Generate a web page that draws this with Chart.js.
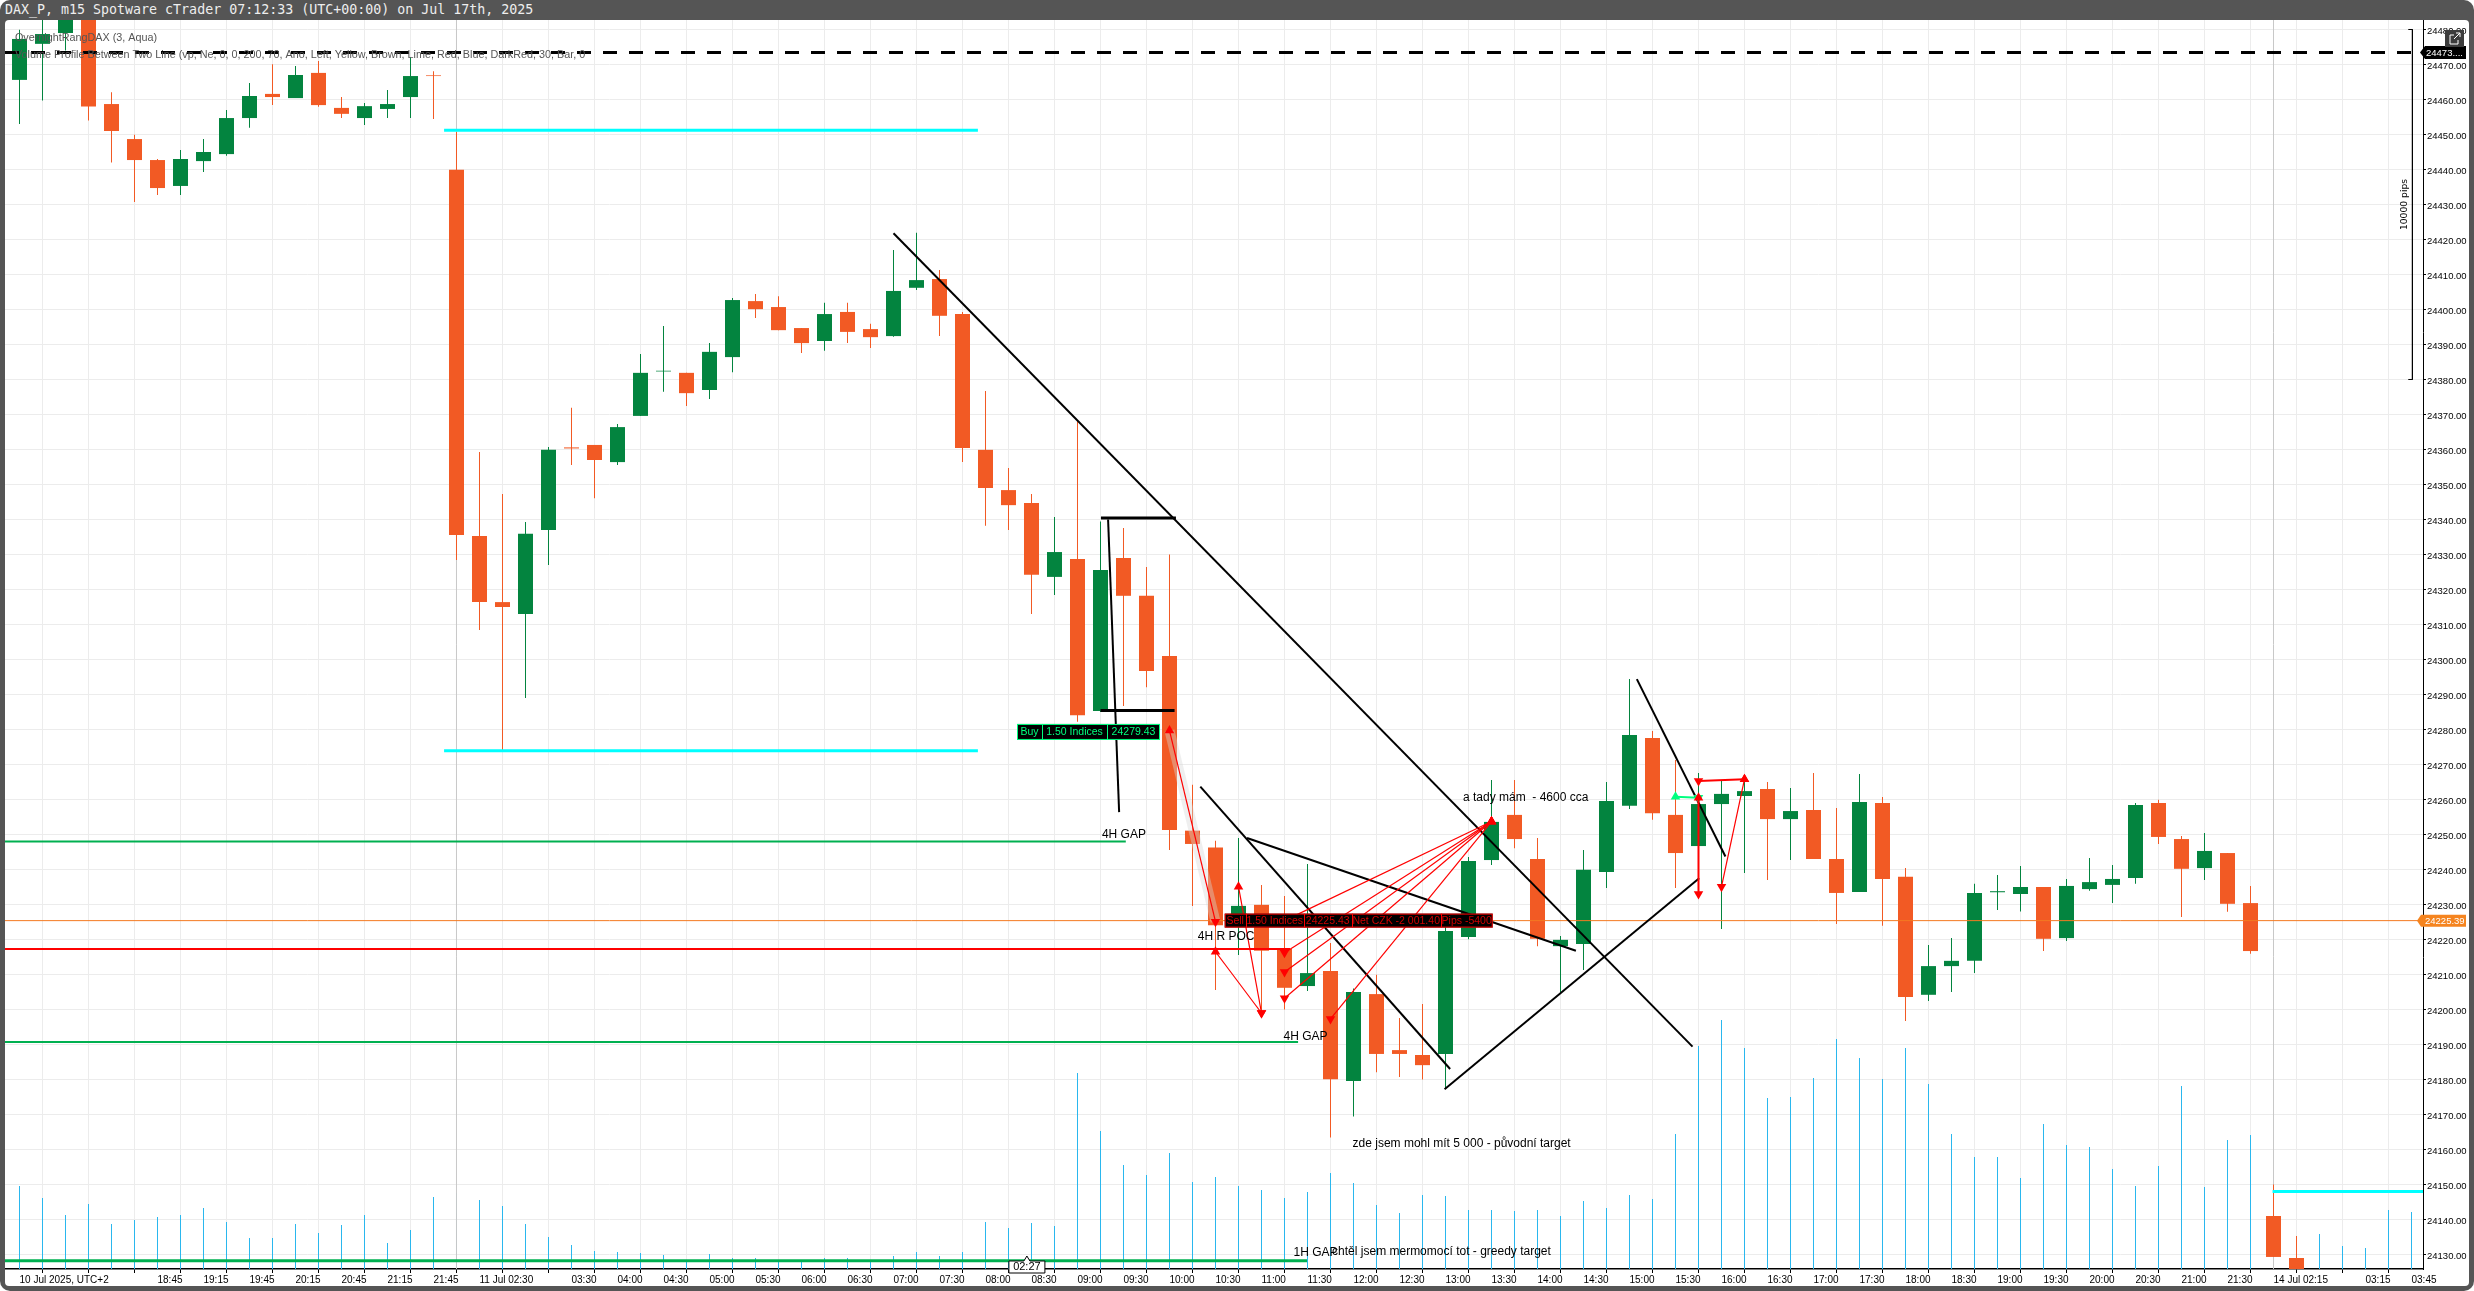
<!DOCTYPE html>
<html>
<head>
<meta charset="utf-8">
<title>DAX_P m15</title>
<style>
    html, body { margin: 0; padding: 0; background: #fff; }
    #frame { position: absolute; left: 0; top: 0; width: 2474px; height: 1291px; background: #555; border-radius: 10px; overflow: hidden; }
    #title { position: absolute; left: 5px; top: 1px; color: #eee; font: 13.3px/18px "DejaVu Sans Mono", monospace; white-space: pre; }
    #pane { position: absolute; left: 5px; top: 20px; width: 2464px; height: 1266px; background: #fff; border-radius: 4px; overflow: hidden; }
    canvas { display: block; }
</style>
<script src="https://cdn.jsdelivr.net/npm/chart.js@4/dist/chart.umd.min.js"></script>
</head>
<body>
<div id="frame">
    <div id="title">DAX_P, m15 Spotware cTrader 07:12:33 (UTC+00:00) on Jul 17th, 2025</div>
    <div id="pane"><canvas id="priceChart" width="2464" height="1266"></canvas></div>
</div>
<script>
// one entry per 15 minute bar
var opens = [24465.6,24475.9,24479,24490,24458.7,24448.7,24442.7,24435.3,24442.4,24444.4,24454.7,24461.6,24460.4,24467.6,24457.6,24454.7,24457.3,24460.7,24466.9,24439.9,24335.3,24316.4,24313,24337,24360.6,24361.3,24356.4,24369.6,24382.3,24381.9,24377,24386.4,24402.4,24400.7,24394.7,24391,24399.3,24394.4,24392.4,24406.2,24408.7,24398.7,24359.9,24348.4,24344.7,24323.6,24328.7,24285.3,24329,24318.2,24301,24251.1,24246.3,24226.5,24229.9,24217.3,24206.7,24211,24179.6,24204.4,24188.4,24187,24187.3,24220.7,24242.7,24255.6,24243,24218.1,24218.7,24239.3,24258.2,24277.6,24255.6,24246.7,24258.7,24261,24263,24254.4,24257,24243,24233.6,24259,24237.9,24204.2,24212.4,24213.9,24233.5,24233,24235,24220.4,24234.4,24235.6,24237.6,24259,24248.7,24240.4,24244.7,24230.4,24141,24129];
var highs = [24479.9,24490,24490,24492,24462.1,24449.9,24443,24445.6,24448.7,24457,24464.7,24470.1,24469.6,24471,24460.7,24459,24462.7,24472.1,24468.1,24450.7,24359.3,24347.3,24339.3,24360.7,24371.9,24361.3,24367.3,24387.3,24395.3,24381.9,24390.4,24403.3,24404.4,24403.8,24394.7,24401.9,24401.9,24395.9,24417,24421.9,24411.3,24399.3,24376.7,24354.7,24347.3,24340.7,24368.1,24339.4,24337.6,24326.4,24330,24264.2,24248.2,24249,24235.6,24232.4,24241.6,24219,24206,24209.9,24197.6,24201.6,24225,24243.6,24265.6,24265.6,24249,24221,24245.6,24265,24294.4,24279.6,24271.3,24267.6,24265.6,24265,24265,24263.3,24267.6,24257.6,24267.3,24260.7,24240.4,24218.4,24220.4,24235.9,24238.4,24241,24235,24237.3,24243.3,24241.3,24259,24259.9,24249.6,24250.4,24244.7,24235.3,24150,24135.3];
var lows = [24453,24459.7,24474,24454,24442,24430.7,24432.7,24432.7,24439.3,24443.9,24451.9,24458.4,24460.4,24457.9,24454.7,24452.7,24454.7,24454.7,24454.4,24328.4,24308.4,24274.1,24289,24327,24355.6,24346.1,24355.6,24369.6,24376.5,24372.4,24374.4,24382.1,24397.6,24394.1,24387.6,24388.2,24390.4,24389,24392.2,24405.6,24392.4,24356.4,24338.2,24337,24313,24318.4,24282.2,24285,24286.7,24292.1,24245.6,24229.6,24205.6,24215.6,24198,24200,24205.3,24163.4,24169.4,24182.1,24180.7,24180,24177.3,24220.1,24241.3,24246.1,24218.1,24205,24211.3,24234.7,24257.3,24254.2,24234.7,24245,24223,24239,24237,24242.7,24243,24224.4,24233.6,24223.9,24196.7,24202.4,24205,24210.4,24228.4,24228,24216.7,24219.6,24233.9,24230.4,24235.9,24247.3,24226.4,24237,24227.9,24215.9,24129.3,24120];
var closes = [24477.3,24478.7,24487,24458,24451,24442.7,24434.7,24443,24445,24454.7,24461,24460.7,24467,24458.4,24455.9,24458.1,24458.7,24466.7,24466.7,24335.6,24316.4,24315,24335.9,24359.9,24360.3,24357,24366.4,24381.9,24382.5,24376.1,24387.9,24402.7,24400.1,24394.1,24390.4,24398.7,24393.6,24392.1,24405.3,24408.4,24398.2,24360.4,24349,24344.1,24324.2,24330.7,24284.1,24325.6,24318.2,24296.7,24251.3,24247.3,24224.1,24229.6,24216.8,24206.2,24210.4,24180.1,24205,24187.3,24187.3,24184.1,24222.4,24242.4,24253.6,24248.7,24220.2,24219.9,24239.9,24259.6,24278.4,24256.1,24244.7,24258.7,24261.6,24262.4,24254.4,24256.7,24243,24233.3,24259.3,24237.3,24203.6,24212.4,24213.9,24233.3,24233.8,24235,24220.2,24235.3,24236.4,24237.3,24258.4,24249.3,24240.2,24245.3,24230.2,24216.7,24129.3,24120];
var volumes = [83,71,54,65,45,49,52,54,61,47,31,31,45,36,44,54,26,39,72,76,69,63,45,32,24,18,17,16,14,8,15,11,11,8,8,11,11,8,13,17,13,17,47,41,46,43,196,138,104,94,116,87,92,83,79,71,77,96,86,64,56,74,73,59,59,58,59,53,68,61,74,70,135,223,249,221,171,172,191,230,211,190,221,185,135,112,112,91,145,124,122,100,83,103,183,82,129,134,85,10,35,23,21,59,57];

var priceTicks = [24480,24470,24460,24450,24440,24430,24420,24410,24400,24390,24380,24370,24360,24350,24340,24330,24320,24310,24300,24290,24280,24270,24260,24250,24240,24230,24220,24210,24200,24190,24180,24170,24160,24150,24140,24130];
// every second bar gets a tick, some ticks have no text
var timeLabels = ['10 Jul 2025, UTC+2','','','18:45','19:15','19:45','20:15','20:45','21:15','21:45','11 Jul 02:30','','03:30','04:00','04:30','05:00','05:30','06:00','06:30','07:00','07:30','08:00','08:30','09:00','09:30','10:00','10:30','11:00','11:30','12:00','12:30','13:00','13:30','14:00','14:30','15:00','15:30','16:00','16:30','17:00','17:30','18:00','18:30','19:00','19:30','20:00','20:30','21:00','21:30','14 Jul 02:15','','03:15','03:45'];

// drawn objects, [bar index, price]
var barMin = -0.6304, barMax = 104.5;
var priceMin = 24125.857, priceMax = 24482.714;
var lastPrice = 24225.39;
var stopLevel = [[barMin,24473.4],[barMax,24473.4]];
var trendLines = [
    [[38,24421.8],[72.74,24189.4]],
    [[47.33,24340],[47.81,24256.4]],
    [[51.34,24263.7],[62.2,24183]],
    [[53.37,24249],[67.67,24216.8]],
    [[61.96,24177.2],[73.03,24237.5]],
    [[70.32,24294.4],[74.17,24243.7]]
];
var flatBlack = [
    [[47.02,24340.4],[50.28,24340.4]],
    [[47,24285.4],[50.22,24285.4]]
];
var cyanLevels = [
    [[18.46,24451.2],[41.67,24451.2]],
    [[18.46,24273.9],[41.67,24273.9]],
    [[97.96,24148],[barMax,24148]]
];
var greenLevels = [
    [[barMin,24248],[48.1,24248]],
    [[barMin,24190.7],[55.59,24190.7]],
    [[barMin,24128.2],[55.98,24128.2]]
];
var redLevel = [[barMin,24217.3],[55.24,24217.3]];
var pipsRuler = [[103.86,24480],[104.04,24480],[104.04,24380],[103.86,24380]];
var sessionBars = [19,98];
var buyPath = [[50,24279.7],[52,24225.1]];
var redTrades = [
    [[50,24279.7],[52,24225.1]],
    [[52,24216.5],[54,24199]],
    [[53,24235.1],[54,24199]],
    [[55,24225.4],[64,24253.7]],
    [[55,24216.2],[64,24253.7]],
    [[55,24210.7],[64,24253.7]],
    [[55,24203.2],[64,24253.7]],
    [[57,24197.3],[64,24253.7]],
    [[73,24260.5],[73,24233]],
    [[73,24265.3],[75,24265.8]],
    [[74,24235.1],[75,24265.8]]
];
var greenTrades = [[[72,24260.8],[73,24260.5]]];

var notes = [
    ['OvernightRangDAX (3, Aqua)', -0.2, 24477.6, '#555'],
    ['Volume Profile Between Two Line (vp, Ne, 0, 0, 200, 70, Ano, Left, Yellow, Brown, Lime, Red, Blue, DarkRed, 30, Bar, 0', -0.2, 24472.7, '#555'],
    ['4H GAP', 47.06, 24250, '#000'],
    ['4H R POC', 51.23, 24220.7, '#000'],
    ['4H GAP', 54.96, 24192.3, '#000'],
    ['a tady mám  - 4600 cca', 62.76, 24260.4, '#000'],
    ['zde jsem mohl mít 5 000 - původní target', 57.96, 24161.7, '#000'],
    ['1H GAP', 55.39, 24130.6, '#000'],
    ['chtěl jsem mermomocí tot - greedy target', 57.07, 24130.9, '#000']
];
var buyCells = ['Buy', '1.50 Indices', '24279.43'];
var sellCells = ['Sell', '1.50 Indices', '24225.43', 'Net CZK -2 001.40', 'Pips -5400'];

var GREEN = '#03843f', ORANGE = '#f25a24';

function xy(pairs) {
    return pairs.map(function (p) { return { x: p[0], y: p[1] }; });
}

function lineSet(pairs, color, width, order, extra) {
    var ds = {
        type: 'line', data: xy(pairs), yAxisID: 'y', borderColor: color, borderWidth: width,
        pointRadius: 0, fill: false, order: order, borderCapStyle: 'butt'
    };
    for (var k in extra) { ds[k] = extra[k]; }
    return ds;
}

function tradeSet(pairs, color, width) {
    // triangles on both ends, pointing up on the higher end and down on the lower one
    var rising = pairs[1][1] > pairs[0][1];
    return lineSet(pairs, color, width, 1, {
        pointStyle: 'triangle', pointRadius: 5.5, pointBackgroundColor: color, pointBorderColor: color,
        pointBorderWidth: 0, pointRotation: rising ? [180, 0] : [0, 180]
    });
}

var datasets = [];
datasets.push({
    label: 'Volume', yAxisID: 'vol', order: 30, barThickness: 1, backgroundColor: '#2ab7ee', inflateAmount: 0,
    data: volumes.map(function (v, i) { return { x: i, y: v }; })
});
datasets.push({
    label: 'Wick', yAxisID: 'y', order: 21, barThickness: 1, inflateAmount: 0,
    data: opens.map(function (o, i) { return { x: i, y: [lows[i], highs[i]] }; }),
    backgroundColor: opens.map(function (o, i) { return closes[i] >= o ? GREEN : ORANGE; })
});
datasets.push({
    label: 'Body', yAxisID: 'y', order: 20, barThickness: 15, inflateAmount: 0,
    data: opens.map(function (o, i) { return { x: i, y: [o, closes[i]] }; }),
    backgroundColor: opens.map(function (o, i) { return closes[i] >= o ? GREEN : ORANGE; })
});
sessionBars.forEach(function (b) {
    datasets.push(lineSet([[b, priceMin], [b, priceMax]], '#c8c8c8', 1, 25));
});
cyanLevels.forEach(function (l) { datasets.push(lineSet(l, '#00ffff', 3, 6)); });
greenLevels.forEach(function (l, i) { datasets.push(lineSet(l, '#00b050', i == 2 ? 3 : 2, 6)); });
datasets.push(lineSet(redLevel, '#ff0000', 2, 6));
datasets.push(lineSet([[barMin, lastPrice], [barMax, lastPrice]], '#f47a20', 1, 5));
datasets.push(lineSet(stopLevel, '#000', 3, 4, { borderDash: [14, 12] }));
trendLines.forEach(function (l) { datasets.push(lineSet(l, '#000', 2, 4)); });
flatBlack.forEach(function (l) { datasets.push(lineSet(l, '#000', 3, 4)); });
datasets.push(lineSet(pipsRuler, '#000', 1, 4));
datasets.push(lineSet(buyPath, 'rgba(215,215,215,0.4)', 10, 3));
redTrades.forEach(function (t, i) { datasets.push(tradeSet(t, '#ff0000', i == 8 || i == 9 ? 2 : 1.2)); });
greenTrades.forEach(function (t) { datasets.push(tradeSet(t, '#00ff7f', 2)); });

function drawCells(ctx, cells, widths, left, midY, height, line, text) {
    var total = widths.reduce(function (a, b) { return a + b; }, 0);
    ctx.fillStyle = '#000';
    ctx.fillRect(left, midY - height / 2, total, height);
    ctx.strokeStyle = line;
    ctx.lineWidth = 1;
    ctx.strokeRect(left + 0.5, midY - height / 2 + 0.5, total - 1, height - 1);
    ctx.font = '10.5px "Liberation Sans"';
    ctx.textAlign = 'center';
    ctx.textBaseline = 'middle';
    var x = left;
    cells.forEach(function (c, i) {
        ctx.fillStyle = text;
        ctx.fillText(c, x + widths[i] / 2, midY + 0.5);
        x += widths[i];
        if (i < cells.length - 1) {
            ctx.beginPath();
            ctx.moveTo(Math.round(x) + 0.5, midY - height / 2);
            ctx.lineTo(Math.round(x) + 0.5, midY + height / 2);
            ctx.stroke();
        }
    });
}

var overlayPlugin = {
    id: 'overlay',
    afterDatasetsDraw: function (chart) {
        var ctx = chart.ctx, sx = chart.scales.x, sy = chart.scales.y;
        ctx.save();
        ctx.textAlign = 'left';
        ctx.textBaseline = 'middle';
        notes.forEach(function (n, i) {
            ctx.font = (i < 2 ? '10.8px' : '12px') + ' "Liberation Sans"';
            ctx.fillStyle = n[3];
            ctx.fillText(n[0], sx.getPixelForValue(n[1]), sy.getPixelForValue(n[2]));
        });
        drawCells(ctx, buyCells, [25, 65, 53], sx.getPixelForValue(43.37), sy.getPixelForValue(24279.3), 16, '#00ff7f', '#00ff7f');
        drawCells(ctx, sellCells, [21, 58, 48, 89, 52], sx.getPixelForValue(52.4), sy.getPixelForValue(24225.4), 14, '#ff0000', '#d00000');
        ctx.restore();
    },
    afterDraw: function (chart) {
        var ctx = chart.ctx, sx = chart.scales.x, sy = chart.scales.y;
        var axisX = sx.right, right = axisX + 43;
        ctx.save();
        ctx.textBaseline = 'middle';
        ctx.textAlign = 'left';
        ctx.font = '9.5px "Liberation Sans"';

        // last bar price and horizontal level tags on the price axis
        var y = sy.getPixelForValue(lastPrice);
        ctx.fillStyle = '#f5841f';
        ctx.beginPath();
        ctx.moveTo(axisX - 6, y);
        ctx.lineTo(axisX - 2, y - 6);
        ctx.lineTo(right, y - 6);
        ctx.lineTo(right, y + 6);
        ctx.lineTo(axisX - 2, y + 6);
        ctx.closePath();
        ctx.fill();
        ctx.fillStyle = '#fff';
        ctx.fillText(lastPrice.toFixed(2), axisX + 2, y + 0.5);

        y = sy.getPixelForValue(stopLevel[0][1]);
        ctx.fillStyle = '#000';
        ctx.beginPath();
        ctx.moveTo(axisX - 3, y);
        ctx.lineTo(axisX + 2, y - 6.5);
        ctx.lineTo(right, y - 6.5);
        ctx.lineTo(right, y + 6.5);
        ctx.lineTo(axisX + 2, y + 6.5);
        ctx.closePath();
        ctx.fill();
        ctx.fillStyle = '#fff';
        ctx.fillText('24473....', axisX + 3, y + 0.5);

        // pop out button
        var bx = axisX + 22, by = 10;
        ctx.fillStyle = '#3c3c3c';
        ctx.fillRect(bx, by, 19, 17);
        ctx.strokeStyle = '#fff';
        ctx.lineWidth = 1;
        ctx.beginPath();
        ctx.moveTo(bx + 9, by + 5);
        ctx.lineTo(bx + 5, by + 5);
        ctx.lineTo(bx + 5, by + 14);
        ctx.lineTo(bx + 13, by + 14);
        ctx.lineTo(bx + 13, by + 10);
        ctx.moveTo(bx + 9, by + 9);
        ctx.lineTo(bx + 15, by + 3);
        ctx.moveTo(bx + 11, by + 3);
        ctx.lineTo(bx + 15, by + 3);
        ctx.lineTo(bx + 15, by + 7);
        ctx.stroke();

        // ruler caption
        ctx.save();
        ctx.translate(sx.getPixelForValue(103.7), sy.getPixelForValue(24430));
        ctx.rotate(-Math.PI / 2);
        ctx.textAlign = 'center';
        ctx.fillStyle = '#000';
        ctx.font = '9.2px "DejaVu Sans"';
        ctx.fillText('10000 pips', 0, 0);
        ctx.restore();

        // crosshair time box sitting on the time axis
        var tx = sx.getPixelForValue(43.8), ty = sy.bottom;
        ctx.fillStyle = '#fff';
        ctx.strokeStyle = '#000';
        ctx.beginPath();
        ctx.moveTo(tx - 18, ty - 8);
        ctx.lineTo(tx - 3, ty - 8);
        ctx.lineTo(tx, ty - 13);
        ctx.lineTo(tx + 3, ty - 8);
        ctx.lineTo(tx + 18, ty - 8);
        ctx.lineTo(tx + 18, ty + 4);
        ctx.lineTo(tx - 18, ty + 4);
        ctx.closePath();
        ctx.fill();
        ctx.stroke();
        ctx.fillStyle = '#000';
        ctx.textAlign = 'center';
        ctx.font = '11px "Liberation Sans"';
        ctx.fillText('02:27', tx, ty - 2);
        ctx.restore();
    }
};

function noPadding(s) {
    // keep the plot area exactly where the axes say, no room for half labels
    s.paddingLeft = 0;
    s.paddingRight = 0;
    s.paddingTop = 0;
    s.paddingBottom = 0;
}

new Chart(document.getElementById('priceChart').getContext('2d'), {
    type: 'bar',
    data: { datasets: datasets },
    plugins: [overlayPlugin],
    options: {
        responsive: false,
        animation: false,
        devicePixelRatio: 1,
        layout: { padding: 0, autoPadding: false },
        datasets: { bar: { grouped: false } },
        plugins: { legend: { display: false }, tooltip: { enabled: false }, title: { display: false } },
        scales: {
            x: {
                type: 'linear', offset: false, min: barMin, max: barMin + 105.1304,
                grid: { color: '#ececec', tickColor: '#000', tickLength: 4, lineWidth: 1 },
                border: { color: '#000', width: 1.5 },
                afterFit: function (s) { s.height = 17; noPadding(s); },
                afterBuildTicks: function (s) {
                    s.ticks = timeLabels.map(function (l, k) { return { value: k * 2 }; });
                },
                ticks: {
                    autoSkip: false, maxRotation: 0, minRotation: 0, align: 'start', padding: 1,
                    color: '#000', font: { family: 'Liberation Sans', size: 10 },
                    callback: function (v) { return timeLabels[v / 2]; }
                }
            },
            y: {
                position: 'right', min: priceMin, max: priceMax,
                grid: { color: '#ececec', tickColor: '#000', tickLength: 3 },
                border: { color: '#000', width: 1 },
                afterFit: function (s) { s.width = 46; noPadding(s); },
                afterBuildTicks: function (s) {
                    s.ticks = priceTicks.map(function (v) { return { value: v }; });
                },
                ticks: {
                    padding: 1, labelOffset: 1.5, color: '#000', font: { family: 'Liberation Sans', size: 9.5 },
                    callback: function (v) { return v.toFixed(2); }
                }
            },
            vol: { display: false, min: 0, max: 1249 }
        }
    }
});
</script>
</body>
</html>
